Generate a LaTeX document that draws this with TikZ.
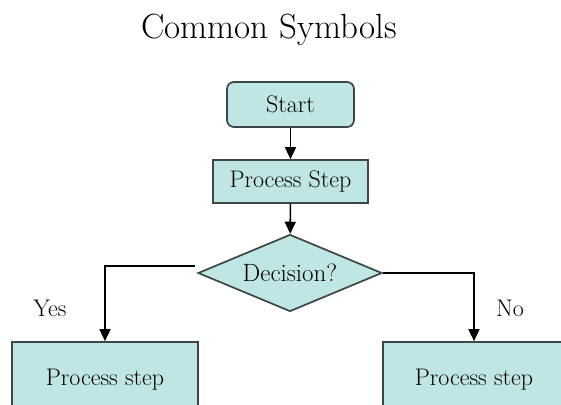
\documentclass[tikz,border=0pt]{standalone}
\usepackage{fontspec}
\usepackage{tikz}
\usetikzlibrary{positioning}
\usetikzlibrary{shapes.geometric}
\usetikzlibrary{arrows.meta}
\usetikzlibrary{calc}
\RequirePackage{xcolor}
\definecolor{FLOWfill}{HTML}{BFE5E4}
\definecolor{FLOWedge}{HTML}{3C4747}

\begin{document}
\begin{tikzpicture}[x=1pt,y=-1pt,
  every node/.style={font=\fontsize{24}{28}\selectfont},
  flowbox/.style={draw=FLOWedge,fill=FLOWfill,line width=1.7pt,inner sep=0pt},
  flowarrow/.style={-{Triangle[length=12pt,width=11pt]},line width=1.6pt,black}]

\useasboundingbox (0,0) rectangle (561,404);

% Title
\node[anchor=base,font=\fontsize{35}{40}\selectfont] (title) at (269,39) {Common Symbols};

% Start and first step
\node[flowbox,rounded corners=7pt,minimum width=127pt,minimum height=45pt] (start) at (290.5,104.5) {Start};
\node[flowbox,minimum width=155pt,minimum height=43pt] (step) at (290.5,181.5) {Process Step};

% Decision
\node[flowbox,diamond,aspect=2.39,minimum width=184pt,minimum height=77pt,font=\fontsize{25}{28}\selectfont] (dec) at (290,273) {Decision?};

% Branches
\node[flowbox,minimum width=186pt,minimum height=76pt] (yesbox) at (105,380) {Process step};
\node[flowbox,minimum width=182pt,minimum height=76pt] (nobox) at (474,380) {Process step};

\coordinate (yesfrom) at ($(dec.west)+(-2,-7)$);

\draw[flowarrow] (start) -- (step);
\draw[flowarrow] (step) -- (dec);
\draw[flowarrow] (yesfrom) -| (yesbox.north);
\draw[flowarrow] (dec.east) -| (nobox.north);

\node (yes) at (50,308) {Yes};
\node (no) at (510,308) {No};

\end{tikzpicture}
\end{document}
